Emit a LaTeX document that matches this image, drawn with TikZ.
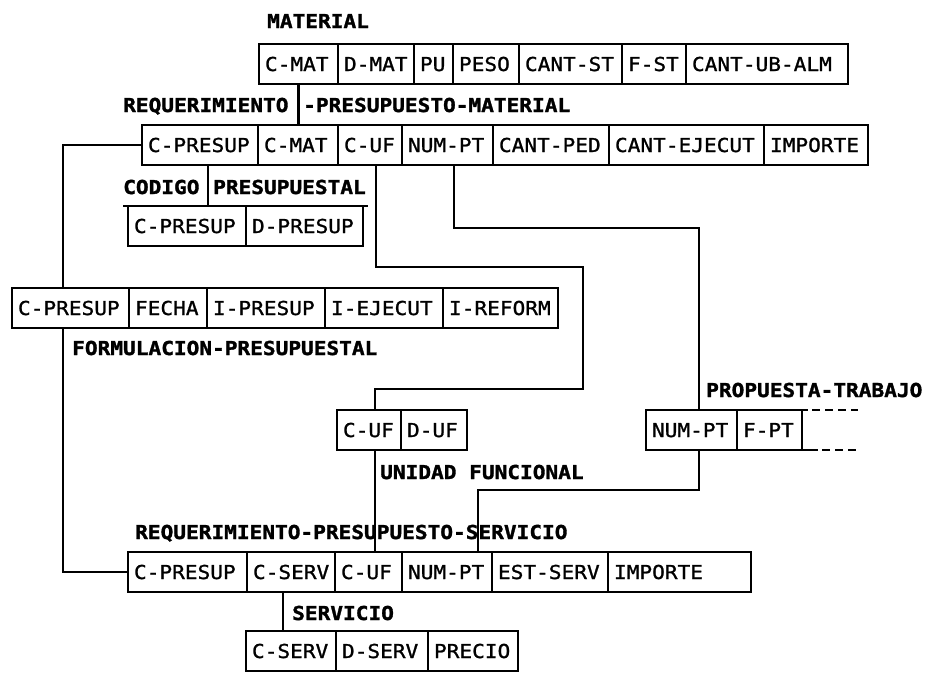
\documentclass[tikz,border=0pt]{standalone}
\usepackage{fontspec}
\newfontfamily\cellfont[FakeStretch=1.1, FakeBold=1.2]{DejaVu Sans Mono}
\newfontfamily\titlefont[FakeStretch=1.1, FakeBold=1.6]{DejaVu Sans Mono Bold}

% one row of a record: name prefix, top edge, list of left/right/field
\newcommand\rowcells[3]{%
  \foreach \xa/\xb/\txt [count=\k] in {#3}{%
    \pgfmathsetmacro\cellw{\xb-\xa-12}%
    \node[cell, text width=\cellw pt] (#1\k) at (\xa,#2) {\mbox{\txt}};
  }%
}

\tikzset{
  cell/.style={draw, line width=2.5pt, inner xsep=6pt, inner ysep=0pt, outer sep=0pt,
    minimum height=40pt, text height=14pt, text depth=0pt, align=left,
    anchor=north west, font=\cellfont\fontsize{19.2}{22}\selectfont},
  title/.style={inner sep=0pt, anchor=base west,
    font=\titlefont\fontsize{19.2}{22}\selectfont},
  link/.style={line width=2.5pt},
  tail/.style={line width=2.5pt, dash pattern=on 8pt off 5pt},
}

\begin{document}
\begin{tikzpicture}[x=1pt, y=-1pt]
\useasboundingbox (0,0) rectangle (931,673);

% records
\rowcells{mat}{44}{259/338/C-MAT, 338/414/D-MAT, 414/453/PU, 453/519/PESO, 519/622/CANT-ST, 622/686/F-ST, 686/848/CANT-UB-ALM}
\rowcells{rpm}{125}{142/258/C-PRESUP, 258/338/C-MAT, 338/402/C-UF, 402/493/NUM-PT, 493/609/CANT-PED, 609/764/CANT-EJECUT, 764/868/IMPORTE}
\rowcells{cp}{206}{128/246/C-PRESUP, 246/363/D-PRESUP}
\rowcells{fp}{288}{12/129/C-PRESUP, 129/207/FECHA, 207/325/I-PRESUP, 325/443/I-EJECUT, 443/558/I-REFORM}
\rowcells{uf}{410}{337/401/C-UF, 401/467/D-UF}
\rowcells{pt}{410}{646/737/NUM-PT, 737/802/F-PT}
\rowcells{rps}{552}{128/247/C-PRESUP, 247/335/C-SERV, 335/402/C-UF, 402/492/NUM-PT, 492/608/EST-SERV, 608/751/IMPORTE}
\rowcells{sv}{631}{246/336/C-SERV, 336/428/D-SERV, 428/518/PRECIO}

% record names
\node[title] (lmat) at (267,28) {MATERIAL};
\node[title] (lrpmA) at (123,112) {REQUERIMIENTO};
\node[title] (lrpmB) at (303,112) {-PRESUPUESTO-MATERIAL};
\node[title] (lcpA) at (123,194) {CODIGO};
\node[title] (lcpB) at (213,194) {PRESUPUESTAL};
\node[title] (lfp) at (72,355) {FORMULACION-PRESUPUESTAL};
\node[title] (luf) at (380,479) {UNIDAD FUNCIONAL};
\node[title] (lpt) at (706,397) {PROPUESTA-TRABAJO};
\node[title] (lrps) at (135,539) {REQUERIMIENTO-PRESUPUESTO-SERVICIO};
\node[title] (lsv) at (292,620) {SERVICIO};

% extended top rule of the budget-code record
\draw[link] ([xshift=-5pt]cp1.north west) -- ([xshift=5pt]cp2.north east);

% open end of the work-proposal record
\draw[link] (pt2.north east) -- ++(6,0);
\draw[tail] ([xshift=10pt]pt2.north east) -- ([xshift=56pt]pt2.north east);
\draw[link] (pt2.south east) -- ++(16,0);
\draw[tail] ([xshift=20pt]pt2.south east) -- ([xshift=56pt]pt2.south east);

% key links
\coordinate (ufjogA) at (583,267);
\coordinate (ufjogB) at (583,389);
\draw[link] (mat1.south) -- (mat1.south |- rpm2.north);
\draw[link] (rpm1.west) -| ([xshift=-7.5pt]fp1.north);
\draw[link] ([xshift=-7.5pt]fp1.south) |- (rps1.west);
\draw[link] ([xshift=8pt]rpm1.south) -- ([xshift=8pt]rpm1.south |- cp1.north);
\draw[link] ([xshift=6pt]rpm3.south) |- (ufjogA) -- (ufjogB) -| ([xshift=6pt]uf1.north);
\draw[link] ([xshift=6.5pt]rpm4.south) -- ++(0,63) -| ([xshift=7.5pt]pt1.north);
\draw[link] ([xshift=6pt]uf1.south) -- ([xshift=6pt]uf1.south |- rps3.north);
\draw[link] ([xshift=7.5pt]pt1.south) -- ++(0,40) -| ([xshift=31pt]rps4.north);
\draw[link] ([xshift=-8pt]rps2.south) -- ([xshift=-8pt]rps2.south |- sv1.north);
\end{tikzpicture}
\end{document}
